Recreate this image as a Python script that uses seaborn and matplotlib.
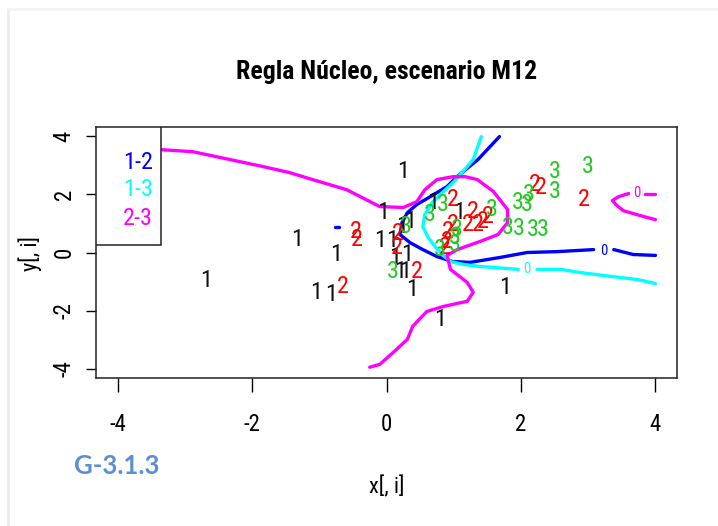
import matplotlib
matplotlib.use("Agg")
import matplotlib.pyplot as plt
import matplotlib.font_manager as fm
from matplotlib.patches import Rectangle
from matplotlib.lines import Line2D
import pandas as pd
import seaborn as sns

# ---- observations: class label text drawn at each (x, y) ----
x1 = [-2.68, -1.33, 0.25, -0.75, -1.04, -0.83, -0.05, -0.10, 0.08, 0.23,
      0.35, 0.13, 0.31, 0.20, 0.28, 0.38, 1.77, 0.80, 0.69, 1.08]
y1 = [-0.96, 0.45, 2.78, -0.07, -1.37, -1.44, 1.37, 0.41, 0.41, 0.89,
      1.07, -0.17, -0.07, -0.65, -0.65, -1.27, -1.20, -2.30, 1.72, 1.37]

x2 = [-0.65, -0.45, -0.44, 0.17, 0.16, 0.45, 0.99, 1.29, 1.51, 1.44,
      1.36, 1.21, 0.99, 0.92, 0.90, 0.87, 2.21, 2.29, 2.93]
y2 = [-1.17, 0.72, 0.45, 0.65, 0.17, -0.65, 1.82, 1.41, 1.24, 1.07,
      0.96, 0.96, 0.96, 0.72, 0.38, 0.17, 2.34, 2.23, 1.82]

x3 = [0.10, 0.28, 0.65, 0.84, 1.57, 1.05, 1.02, 1.02, 0.80, 1.81,
      1.97, 2.17, 2.32, 1.96, 2.09, 2.11, 2.51, 2.51, 3.00]
y3 = [-0.65, 0.89, 1.31, 1.65, 1.48, 0.79, 0.52, 0.27, 0.10, 0.86,
      0.82, 0.79, 0.79, 1.72, 1.65, 1.99, 2.78, 2.10, 2.96]

class_labels = ["1", "2", "3"]
class_colors = ["#111111", "#FF0000", "#22C922"]

# ---- zero-level boundaries between pairs of classes ----
pair_labels = ["1-2", "1-3", "2-3"]
pair_colors = ["#0000FF", "#00FFFF", "#FF00FF"]
level_label = "0"

# 1-2
b12_x = [1.68, 1.36, 1.05, 0.90, 0.65, 0.45, 0.31, 0.23, 0.20, 0.35,
         0.54, 0.75, 0.98, 1.24, 1.69, 2.09, 2.54, 3.08]
b12_y = [3.99, 3.20, 2.61, 2.27, 1.92, 1.65, 1.37, 1.03, 0.62, 0.34,
         0.10, -0.14, -0.31, -0.34, -0.17, 0.00, 0.03, 0.10]
b12_tail_x = [3.38, 3.67, 4.00]
b12_tail_y = [0.10, -0.07, -0.10]
b12_dot_x = [-0.77, -0.71]
b12_dot_y = [0.87, 0.87]
b12_lab = (3.23, 0.05)

# 1-3
b13_x = [1.41, 1.29, 1.07, 0.99, 0.83, 0.68, 0.57, 0.54, 0.62, 0.72,
         0.83, 0.95, 1.14, 1.39, 1.96]
b13_y = [3.99, 3.20, 2.61, 2.41, 2.06, 1.72, 1.31, 0.89, 0.52, 0.21,
         -0.07, -0.31, -0.41, -0.48, -0.58]
b13_tail_x = [2.24, 2.59, 2.88, 3.33, 3.73, 4.00]
b13_tail_y = [-0.58, -0.58, -0.69, -0.82, -0.93, -1.07]
b13_lab = (2.09, -0.58)

# 2-3
b23_x = [-4.00, -3.35, -2.88, -2.33, -1.84, -1.44, -1.10, -0.59, -0.10, 0.25,
         0.45, 0.57, 0.75, 0.99, 1.17, 1.35, 1.59, 1.80, 1.80, 1.66,
         1.39, 1.05, 0.90, 0.95, 1.20, 1.29, 1.20, 0.84, 0.60, 0.39,
         0.31, 0.10, -0.10, -0.25]
b23_y = [3.57, 3.54, 3.47, 3.20, 2.96, 2.75, 2.51, 2.16, 1.58, 1.55,
         1.75, 2.16, 2.51, 2.61, 2.61, 2.51, 2.10, 1.48, 1.03, 0.62,
         0.38, 0.10, -0.10, -0.58, -1.03, -1.37, -1.68, -1.86, -2.03, -2.54,
         -2.99, -3.44, -3.85, -3.95]
b23_edge_x = [4.00, 3.85]
b23_edge_y = [2.03, 2.03]
b23_arc_x = [3.60, 3.45, 3.36, 3.41, 3.52, 3.67, 3.82, 4.00]
b23_arc_y = [2.03, 1.92, 1.79, 1.65, 1.44, 1.34, 1.24, 1.13]
b23_lab = (3.72, 2.06)

x_ticks = [-4, -2, 0, 2, 4]
y_ticks = [-4, -2, 0, 2, 4]

title = "Regla Núcleo, escenario M12"
xlabel = "x[, i]"
ylabel = "y[, i]"
tag = "G-3.1.3"

# ---- style ----
sns.set_style("ticks")
names = {f.name for f in fm.fontManager.ttflist}
if "Liberation Sans Narrow" in names:
    NARROW = dict(family="Liberation Sans Narrow")
elif "Roboto Condensed" in names:
    NARROW = dict(family="Roboto Condensed")
else:
    NARROW = dict(family="DejaVu Sans", stretch="condensed")
plt.rcParams["font.family"] = ["Liberation Sans", "DejaVu Sans"]
plt.rcParams["text.color"] = "black"

fig = plt.figure(figsize=(7.18, 5.26), dpi=100)
fig.patch.set_facecolor("white")
ax = fig.add_axes([96 / 718, 1 - 378 / 526, (677 - 96) / 718, (378 - 127) / 526])
ax.set_facecolor("white")

lw = 2.4

def curve(xs, ys, color):
    sns.lineplot(x=xs, y=ys, sort=False, estimator=None, color=color,
                 linewidth=lw, ax=ax, legend=False)

curve(b12_x, b12_y, pair_colors[0])
curve(b12_tail_x, b12_tail_y, pair_colors[0])
curve(b12_dot_x, b12_dot_y, pair_colors[0])
curve(b13_x, b13_y, pair_colors[1])
curve(b13_tail_x, b13_tail_y, pair_colors[1])
curve(b23_x, b23_y, pair_colors[2])
curve(b23_edge_x, b23_edge_y, pair_colors[2])
curve(b23_arc_x, b23_arc_y, pair_colors[2])

for (lx, ly), c in zip([b12_lab, b13_lab, b23_lab], pair_colors):
    ax.text(lx, ly, level_label, color=c, fontsize=10.5, ha="center",
            va="center", **NARROW)

# class labels at each observation
obs = pd.DataFrame({
    "x": x1 + x2 + x3,
    "y": y1 + y2 + y3,
    "cls": [class_labels[0]] * len(x1) + [class_labels[1]] * len(x2)
           + [class_labels[2]] * len(x3),
})
cmap = dict(zip(class_labels, class_colors))
for row in obs.itertuples():
    ax.text(row.x, row.y, row.cls, color=cmap[row.cls], fontsize=17.5,
            ha="center", va="center", **NARROW)

ax.set_xlim(-4.32, 4.32)
ax.set_ylim(-4.32, 4.32)
ax.set_xticks(x_ticks)
ax.set_yticks(y_ticks)
ax.set_xticklabels([str(t) for t in x_ticks], fontsize=16.5, **NARROW)
ax.set_yticklabels([str(t) for t in y_ticks], fontsize=16.5, rotation=90,
                   va="center", **NARROW)
ax.tick_params(axis="x", direction="out", length=10, width=1, pad=15,
               color="black", labelcolor="black")
ax.tick_params(axis="y", direction="out", length=7.5, width=1, pad=7,
               color="black", labelcolor="black")
for s in ax.spines.values():
    s.set_visible(True)
    s.set_color("#222222")
    s.set_linewidth(1.1)

# legend box in the upper-left corner
leg_right, leg_bottom = -3.35, 0.27
ax.add_patch(Rectangle((-4.32, leg_bottom), leg_right + 4.32, 4.32 - leg_bottom,
                       facecolor="white", edgecolor="#222222", linewidth=1.1,
                       zorder=5))
for lab, c, ly in zip(pair_labels, pair_colors, [3.09, 2.16, 1.17]):
    ax.text(-3.47, ly, lab, color=c, fontsize=17.5, ha="right", va="center",
            zorder=6, **NARROW)

fig.text(386.5 / 718, 1 - 72 / 526, title, ha="center", va="center",
         fontsize=18.5, fontweight="bold", color="black", **NARROW)
fig.text(386.5 / 718, 1 - 487 / 526, xlabel, ha="center", va="center",
         fontsize=16, color="black", **NARROW)
fig.text(30 / 718, 1 - 254 / 526, ylabel, ha="center", va="center",
         fontsize=16, rotation=90, color="black", **NARROW)
fig.text(74 / 718, 1 - 466 / 526, tag, ha="left", va="center",
         fontsize=18.5, fontweight="bold", color="#5A8ED6", family="Lato")

# faint page edge
fig.add_artist(Line2D([8 / 718, 8 / 718], [0, 1 - 9 / 526],
                      transform=fig.transFigure, color="#ececec", lw=2))
fig.add_artist(Line2D([8 / 718, 1], [1 - 9 / 526, 1 - 9 / 526],
                      transform=fig.transFigure, color="#f2f2f2", lw=2))

fig.savefig("out.png", dpi=100)
